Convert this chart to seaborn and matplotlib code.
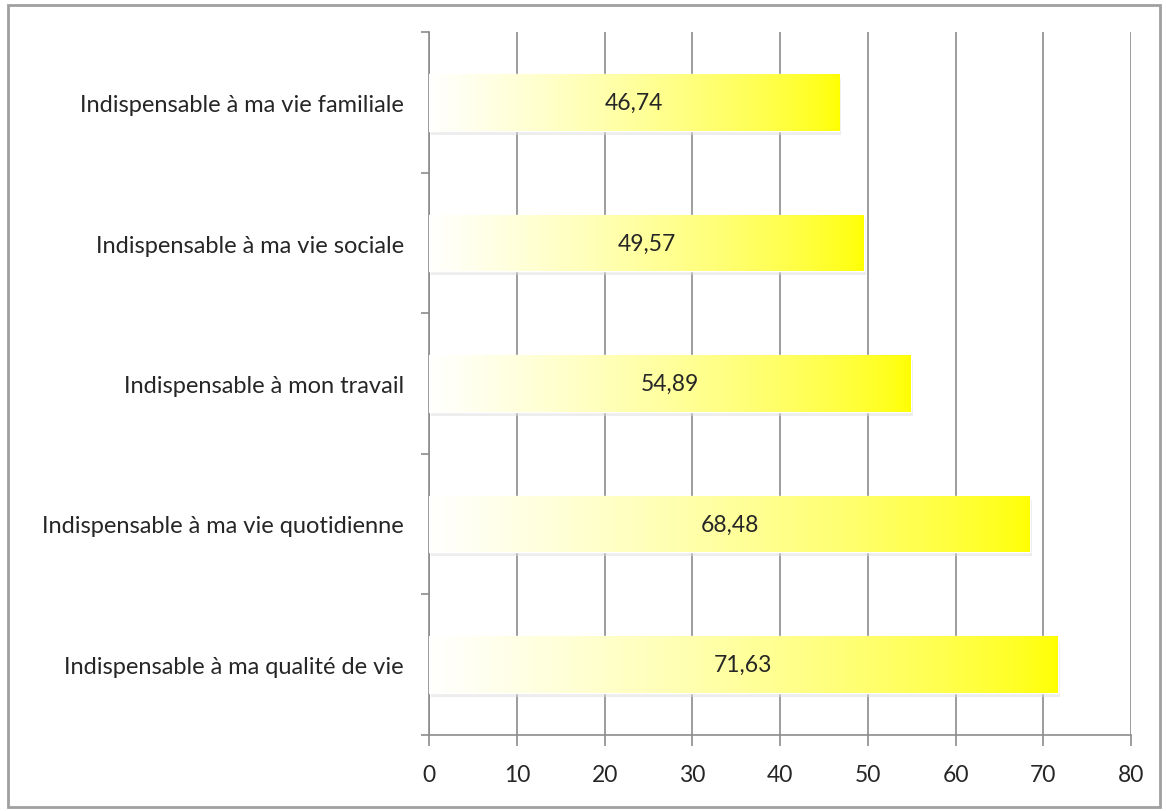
import numpy as np
import pandas as pd
import matplotlib
matplotlib.use("Agg")
import matplotlib.pyplot as plt
from matplotlib.patches import Rectangle
import seaborn as sns

categories = ["Indispensable à ma vie familiale",
              "Indispensable à ma vie sociale",
              "Indispensable à mon travail",
              "Indispensable à ma vie quotidienne",
              "Indispensable à ma qualité de vie"]
values = [46.74, 49.57, 54.89, 68.48, 71.63]
x_ticks = [0, 10, 20, 30, 40, 50, 60, 70, 80]

df = pd.DataFrame({"cat": categories, "val": values})

sns.set_style("white")
plt.rcParams["font.family"] = ["Lato", "DejaVu Sans"]

fig = plt.figure(figsize=(11.66, 8.12), dpi=100)
ax = fig.add_axes([0.368, 0.094, 0.602, 0.865])

sns.barplot(data=df, y="cat", x="val", orient="h", width=0.4,
            color="yellow", ax=ax, zorder=3)

# gradient fill white -> yellow, clipped to each bar
t = np.linspace(0, 1, 256)
grad = np.ones((1, 256, 4))
grad[0, :, 2] = (1 - t) ** 0.7
for p in ax.patches:
    x0, y0 = p.get_x(), p.get_y()
    w, h = p.get_width(), p.get_height()
    # soft shadow
    ax.add_patch(Rectangle((x0 + 0.25, y0 + 0.03), w, h, facecolor="#dcdcdc",
                           edgecolor="none", alpha=0.5, zorder=2))
    im = ax.imshow(grad, extent=(x0, x0 + w, y0 + h, y0), aspect="auto",
                   zorder=4, interpolation="bicubic")
    im.set_clip_path(p)
    ax.text(x0 + w / 2, y0 + h / 2, f"{w:.2f}".replace(".", ","),
            ha="center", va="center", fontsize=16.5, zorder=5)

ax.set_xlim(0, 80)
ax.set_ylim(len(categories) - 0.5, -0.5)
ax.set_xticks(x_ticks)
ax.set_xticklabels([str(v) for v in x_ticks], fontsize=16.5)
ax.set_yticks(np.arange(-0.5, len(categories), 1))
ax.set_yticklabels([])
ax.set_yticks(np.arange(len(categories)), minor=True)
ax.set_yticklabels(categories, minor=True, fontsize=17)
ax.tick_params(axis="y", which="minor", length=0, pad=18)
ax.tick_params(axis="y", which="major", length=6, width=1.2, color="#8c8c8c", direction="out", left=True)
ax.tick_params(axis="x", length=8, width=1.2, color="#8c8c8c", direction="out", pad=13, bottom=True)
ax.set_xlabel("")
ax.set_ylabel("")

ax.grid(axis="x", color="#8c8c8c", linewidth=1.2, zorder=0)
ax.grid(axis="y", visible=False)
ax.set_axisbelow(True)
for s in ["top", "right"]:
    ax.spines[s].set_visible(False)
for s in ["left", "bottom"]:
    ax.spines[s].set_color("#8c8c8c")
    ax.spines[s].set_linewidth(1.2)

fig.patches.append(Rectangle((0.007, 0.005), 0.988, 0.988, transform=fig.transFigure,
                             fill=False, edgecolor="#a0a0a0", linewidth=2))

fig.savefig("out.png", dpi=100)
